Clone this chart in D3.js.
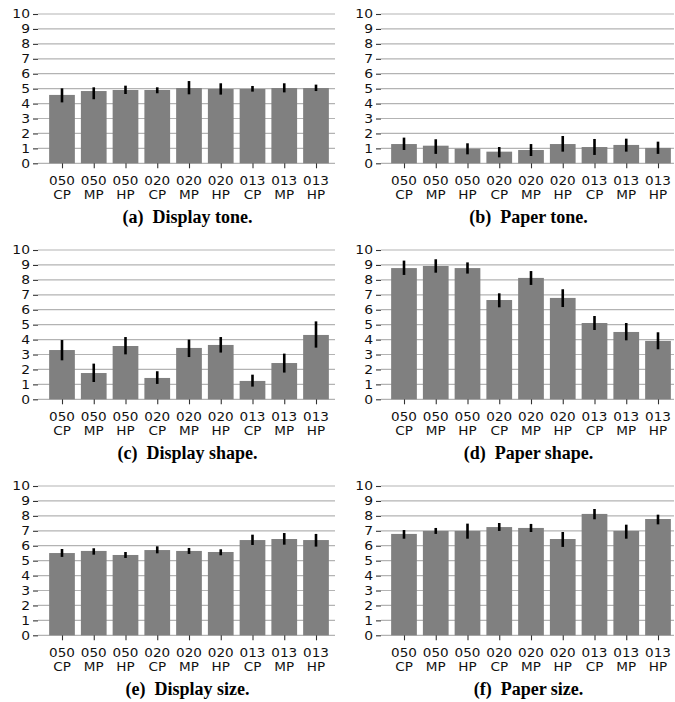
<!DOCTYPE html>
<html><head><meta charset="utf-8">
<script src="https://cdn.jsdelivr.net/npm/d3@7"></script>
<style>body{margin:0;background:#fff}svg{display:block}</style>
</head><body>
<script>
const categories = ["050\nCP","050\nMP","050\nHP","020\nCP","020\nMP","020\nHP","013\nCP","013\nMP","013\nHP"];
const yTicks = [0,1,2,3,4,5,6,7,8,9,10];
const captions = ["(a)  Display tone.","(b)  Paper tone.","(c)  Display shape.","(d)  Paper shape.","(e)  Display size.","(f)  Paper size."];

const displayTone     = [4.58,4.84,4.91,4.91,5.04,4.98,4.98,5.04,5.04];
const displayToneLo   = [4.08,4.29,4.64,4.69,4.62,4.60,4.80,4.75,4.84];
const displayToneHi   = [5.02,5.09,5.20,5.09,5.51,5.36,5.18,5.36,5.27];

const paperTone       = [1.29,1.18,0.98,0.78,0.89,1.29,1.09,1.23,1.03];
const paperToneLo     = [0.89,0.63,0.60,0.40,0.49,0.78,0.56,0.78,0.63];
const paperToneHi     = [1.72,1.61,1.34,1.09,1.29,1.83,1.63,1.65,1.45];

const displayShape    = [3.30,1.76,3.57,1.43,3.44,3.64,1.23,2.43,4.31];
const displayShapeLo  = [2.61,1.16,3.01,1.03,2.83,3.13,0.85,1.79,3.46];
const displayShapeHi  = [3.97,2.39,4.17,1.88,4.00,4.17,1.65,3.06,5.22];

const paperShape      = [8.79,8.93,8.79,6.65,8.13,6.79,5.11,4.51,3.91];
const paperShapeLo    = [8.33,8.48,8.42,6.16,7.66,6.18,4.64,3.95,3.35];
const paperShapeHi    = [9.29,9.38,9.17,7.10,8.59,7.37,5.58,5.11,4.49];

const displaySize     = [5.51,5.65,5.38,5.71,5.65,5.58,6.38,6.45,6.38];
const displaySizeLo   = [5.25,5.40,5.18,5.49,5.45,5.36,6.05,6.07,5.94];
const displaySizeHi   = [5.78,5.83,5.58,5.96,5.85,5.76,6.74,6.85,6.79];

const paperSize       = [6.79,6.99,6.99,7.25,7.19,6.45,8.13,6.99,7.79];
const paperSizeLo     = [6.47,6.79,6.47,6.99,6.92,5.92,7.77,6.47,7.43];
const paperSizeHi     = [7.05,7.19,7.48,7.52,7.46,6.92,8.46,7.41,8.08];

const panels = [
  {v:displayTone, lo:displayToneLo, hi:displayToneHi},
  {v:paperTone, lo:paperToneLo, hi:paperToneHi},
  {v:displayShape, lo:displayShapeLo, hi:displayShapeHi},
  {v:paperShape, lo:paperShapeLo, hi:paperShapeHi},
  {v:displaySize, lo:displaySizeLo, hi:displaySizeHi},
  {v:paperSize, lo:paperSizeLo, hi:paperSizeHi}
];

const W = 675, H = 702;
const SX = 1.13; // horizontal stretch of sans labels
const svg = d3.select("body").append("svg").attr("width", W).attr("height", H);

const cols = [
  {gx0:38, gx1:335, c0:62, c1:316},
  {gx0:381, gx1:674, c0:404, c1:658}
];
const rowTop = [14, 250, 486];
const rowBot = [163.3, 399.3, 635.3];

panels.forEach((p, i) => {
  const col = cols[i % 2], r = Math.floor(i / 2);
  const g = svg.append("g");
  const x = d3.scalePoint().domain(categories).range([col.c0, col.c1]);
  const bw = x.step() * 0.81;
  const y = d3.scaleLinear().domain([0, 10]).range([rowBot[r], rowTop[r]]);

  // grid
  g.append("g").selectAll("line").data(yTicks).join("line")
    .attr("x1", col.gx0).attr("x2", col.gx1)
    .attr("y1", d => y(d)).attr("y2", d => y(d))
    .attr("stroke", "#b3b3b3").attr("stroke-width", 1.2);

  // y axis
  const ya = g.append("g").attr("transform", `translate(${col.gx0},0)`)
    .call(d3.axisLeft(y).tickValues(yTicks).tickSize(5).tickPadding(3).tickFormat(d3.format("d")));
  ya.select(".domain").remove();
  ya.selectAll(".tick line").attr("stroke", "#333").attr("stroke-width", 1.1);
  ya.selectAll("text").attr("font-family", "DejaVu Sans").attr("font-size", 12.3).attr("fill", "#111")
    .attr("x", -8 / SX).attr("transform", `scale(${SX},1)`);

  // bars
  g.append("g").selectAll("rect").data(p.v).join("rect")
    .attr("x", (d, j) => x(categories[j]) - bw / 2)
    .attr("width", bw)
    .attr("y", d => y(d))
    .attr("height", d => y(0) - y(d))
    .attr("fill", "#808080");

  // x axis
  const xa = g.append("g").attr("transform", `translate(0,${y(0)})`)
    .call(d3.axisBottom(x).tickSize(5).tickPadding(3).tickFormat(() => ""));
  xa.select(".domain").remove();
  xa.selectAll(".tick line").attr("stroke", "#333").attr("stroke-width", 1.1);
  xa.selectAll(".tick text").remove();
  categories.forEach((c, j) => {
    const parts = c.split("\n");
    parts.forEach((s, k) => {
      g.append("text").attr("text-anchor", "middle")
        .attr("transform", `translate(${x(c)},${y(0) + 22 + k * 14}) scale(${SX},1)`)
        .attr("font-family", "DejaVu Sans").attr("font-size", 12).attr("fill", "#111")
        .text(s);
    });
  });

  // error bars
  g.append("g").selectAll("line").data(p.v).join("line")
    .attr("x1", (d, j) => x(categories[j])).attr("x2", (d, j) => x(categories[j]))
    .attr("y1", (d, j) => y(p.lo[j])).attr("y2", (d, j) => y(p.hi[j]))
    .attr("stroke", "#000").attr("stroke-width", 2.6);

  // caption
  g.append("text").attr("x", (col.gx0 + col.gx1) / 2 + 1).attr("y", y(0) + 59.5)
    .attr("text-anchor", "middle").attr("font-family", "Liberation Serif")
    .attr("font-weight", "bold").attr("font-size", 18).attr("xml:space", "preserve")
    .style("white-space", "pre").text(captions[i]);
});
</script>
</body></html>
